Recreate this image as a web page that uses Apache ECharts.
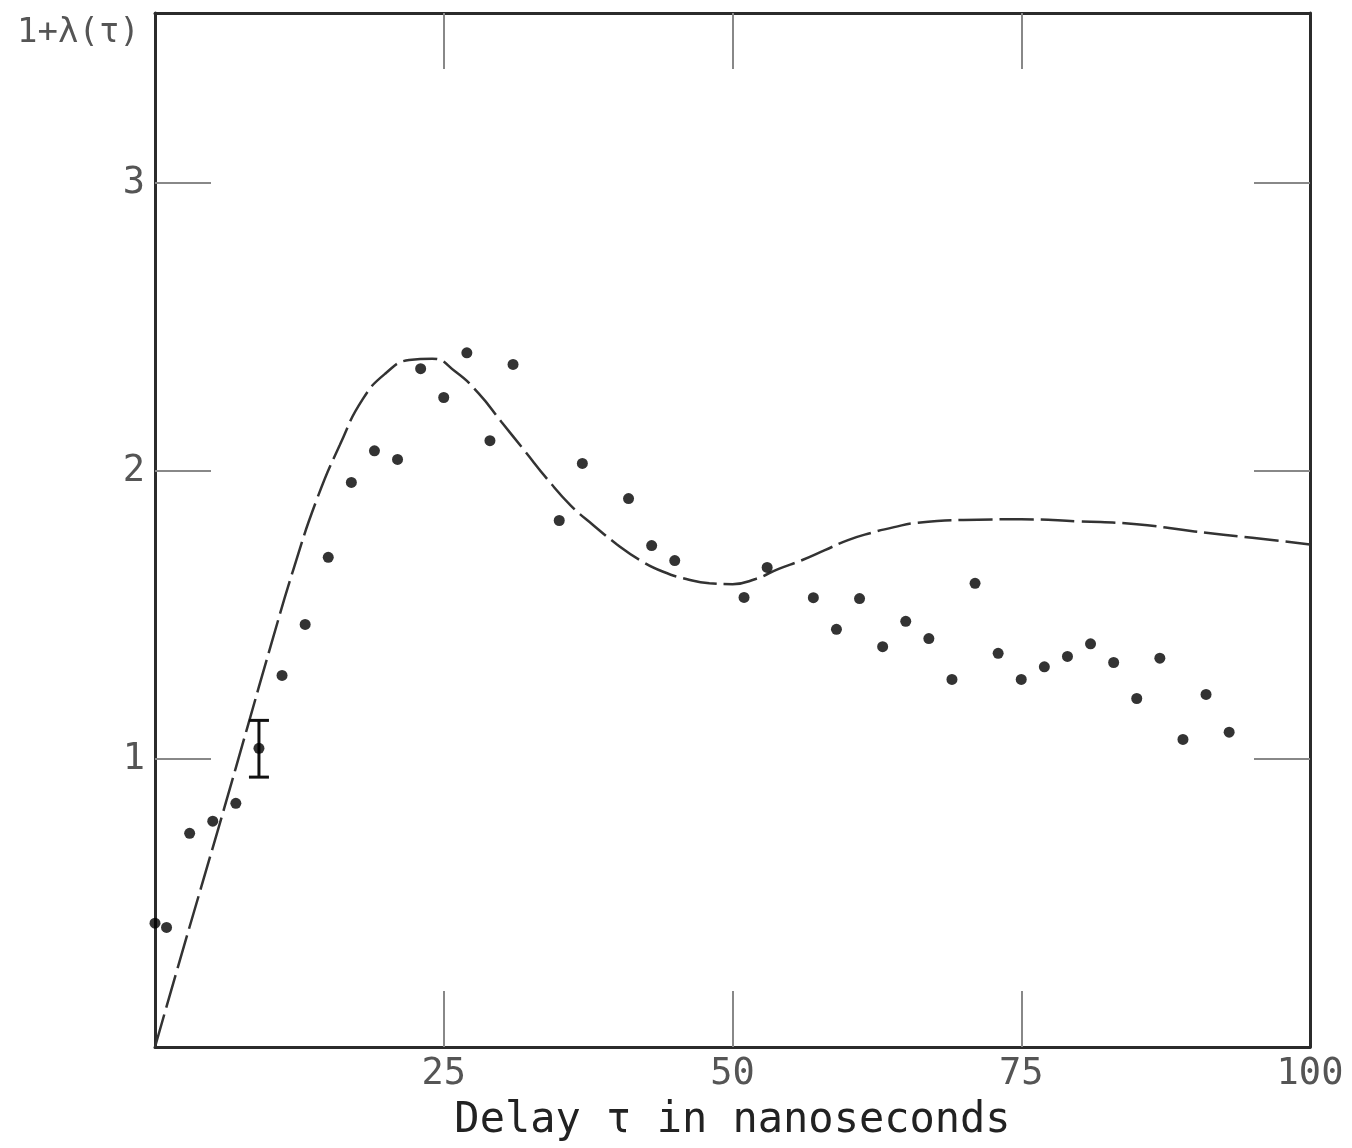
<!DOCTYPE html>
<html>
<head>
<meta charset="utf-8">
<script src="https://cdn.jsdelivr.net/npm/echarts@6/dist/echarts.min.js"></script>
<style>
  html, body { margin: 0; padding: 0; background: #fff; }
  #chart { width: 1352px; height: 1148px; }
</style>
</head>
<body>
<div id="chart"></div>
<script>
// measured points: delay (ns) and 1+lambda(tau)
const delayNs = [0, 1, 3, 5, 7, 9, 11, 13, 15, 17, 19, 21, 23, 25, 27, 29, 31, 35, 37, 41, 43, 45,
  51, 53, 57, 59, 61, 63, 65, 67, 69, 71, 73, 75, 77, 79, 81, 83, 85, 87, 89, 91, 93]
const ratioValues = [0.43, 0.415, 0.742, 0.784, 0.846, 1.037, 1.29, 1.467, 1.70, 1.96, 2.07, 2.04,
  2.355, 2.255, 2.41, 2.105, 2.37, 1.828, 2.026, 1.904, 1.741, 1.689,
  1.561, 1.665, 1.56, 1.45, 1.557, 1.39, 1.478, 1.418, 1.276, 1.61, 1.367, 1.276, 1.32, 1.356,
  1.40, 1.335, 1.21, 1.35, 1.068, 1.224, 1.093]

// theoretical dashed curve
const curveX = [0, 2, 4, 6, 8, 10, 12, 14, 16, 18, 20, 22, 24, 26, 28, 30, 32, 34, 36, 38, 40,
  42, 44, 46, 48, 50, 52, 54, 56, 58, 60, 62, 64, 66, 70, 75, 80, 85, 90, 95, 100]
const curveY = [0, 0.28, 0.555, 0.83, 1.11, 1.39, 1.66, 1.90, 2.09, 2.25, 2.34, 2.385, 2.39,
  2.345, 2.27, 2.17, 2.07, 1.97, 1.88, 1.81, 1.745, 1.69, 1.65, 1.625, 1.61, 1.607, 1.625,
  1.66, 1.69, 1.725, 1.76, 1.785, 1.805, 1.82, 1.83, 1.832, 1.825, 1.815, 1.79, 1.768, 1.745]

// one representative error bar: [x, low, high]
const errorBar = [[9, 0.937, 1.134]]

const xTickMarks = [25, 50, 75]
const xTickLabels = [25, 50, 75, 100]
const yTicks = [1, 2, 3]

const font = 'DejaVu Sans Mono'

const chart = echarts.init(document.getElementById('chart'))

// onZero off, otherwise the top/right axes jump onto the zero lines
const axisLine = { show: true, onZero: false, lineStyle: { color: '#2b2b2b', width: 3 } }
const tickStyle = { color: '#888', width: 2 }
const xTick = { show: true, inside: true, length: 56, customValues: xTickMarks, lineStyle: tickStyle }
const yTick = { show: true, inside: true, length: 56, customValues: yTicks, lineStyle: tickStyle }

const option = {
  animation: false,
  backgroundColor: '#fff',
  title: {
    text: '1+λ(τ)',
    left: 12,
    top: 11,
    textStyle: { fontFamily: font, fontSize: 34, fontWeight: 'normal', color: '#555' }
  },
  grid: { left: 155, right: 42, top: 13, bottom: 101 },
  xAxis: [
    {
      type: 'value',
      min: 0,
      max: 100,
      interval: 25,
      position: 'bottom',
      name: 'Delay τ in nanoseconds',
      nameLocation: 'middle',
      nameGap: 53,
      nameTextStyle: { fontFamily: font, fontSize: 42, color: '#222' },
      axisLine,
      axisTick: xTick,
      splitLine: { show: false },
      axisLabel: {
        margin: 9,
        fontFamily: font,
        fontSize: 37,
        color: '#555',
        customValues: xTickLabels
      }
    },
    {
      type: 'value',
      min: 0,
      max: 100,
      interval: 25,
      position: 'top',
      axisLine,
      axisTick: xTick,
      splitLine: { show: false },
      axisLabel: { show: false }
    }
  ],
  yAxis: [
    {
      type: 'value',
      min: 0,
      max: 3.59,
      interval: 1,
      position: 'left',
      axisLine,
      axisTick: yTick,
      splitLine: { show: false },
      axisLabel: {
        margin: 10,
        fontFamily: font,
        fontSize: 37,
        color: '#555',
        customValues: yTicks
      }
    },
    {
      type: 'value',
      min: 0,
      max: 3.59,
      interval: 1,
      position: 'right',
      axisLine,
      axisTick: yTick,
      splitLine: { show: false },
      axisLabel: { show: false }
    }
  ],
  series: [
    {
      name: 'theory',
      type: 'line',
      smooth: true,
      symbol: 'none',
      data: curveX.map((x, i) => [x, curveY[i]]),
      lineStyle: { color: '#333', width: 2.5, type: [34, 7] },
      z: 2
    },
    {
      name: 'measured',
      type: 'scatter',
      symbol: 'circle',
      symbolSize: 11,
      data: delayNs.map((x, i) => [x, ratioValues[i]]),
      itemStyle: { color: '#000' },
      z: 3
    },
    {
      name: 'error',
      type: 'custom',
      data: errorBar,
      renderItem: (params, api) => {
        const x = api.value(0)
        const lo = api.coord([x, api.value(1)])
        const hi = api.coord([x, api.value(2)])
        const cap = 10
        const style = { stroke: '#111', lineWidth: 3 }
        return {
          type: 'group',
          children: [
            { type: 'line', shape: { x1: lo[0], y1: lo[1], x2: hi[0], y2: hi[1] }, style },
            { type: 'line', shape: { x1: hi[0] - cap, y1: hi[1], x2: hi[0] + cap, y2: hi[1] }, style },
            { type: 'line', shape: { x1: lo[0] - cap, y1: lo[1], x2: lo[0] + cap, y2: lo[1] }, style }
          ]
        }
      },
      z: 3
    }
  ]
}

chart.setOption(option)
</script>
</body>
</html>
